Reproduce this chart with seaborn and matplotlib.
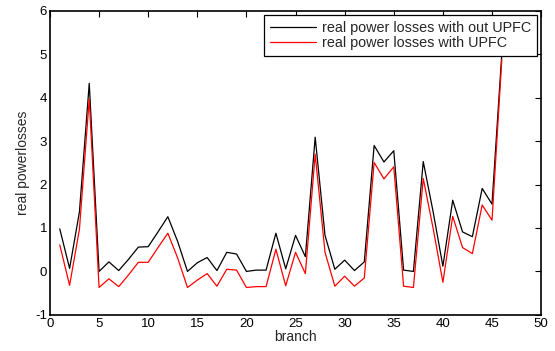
import numpy as np
import pandas as pd
import matplotlib
matplotlib.use("Agg")
import matplotlib.pyplot as plt
import seaborn as sns

branch = list(range(1, 47))
loss_without_upfc = [0.98, 0.07, 1.37, 4.33, 0.0, 0.22, 0.02, 0.28, 0.56, 0.57,
                     0.91, 1.26, 0.69, 0.0, 0.2, 0.32, 0.02, 0.44, 0.4, 0.0,
                     0.03, 0.03, 0.88, 0.06, 0.83, 0.34, 3.09, 0.83, 0.05, 0.26,
                     0.02, 0.22, 2.9, 2.52, 2.78, 0.03, 0.0, 2.53, 1.38, 0.12,
                     1.64, 0.91, 0.8, 1.91, 1.55, 5.02]
loss_with_upfc = [0.61, -0.32, 0.97, 3.97, -0.37, -0.17, -0.35, -0.08, 0.21, 0.21,
                  0.55, 0.88, 0.31, -0.37, -0.2, -0.05, -0.34, 0.05, 0.03, -0.37,
                  -0.35, -0.35, 0.51, -0.33, 0.44, -0.05, 2.7, 0.44, -0.34, -0.11,
                  -0.34, -0.15, 2.51, 2.13, 2.41, -0.34, -0.37, 2.14, 1.0, -0.25,
                  1.27, 0.55, 0.41, 1.53, 1.18, 4.88]
series_names = ["real power losses with out UPFC", "real power losses with UPFC"]
series_colors = ["black", "red"]

df = pd.DataFrame({
    "branch": branch * 2,
    "loss": loss_without_upfc + loss_with_upfc,
    "series": [series_names[0]] * len(branch) + [series_names[1]] * len(branch),
})

sns.set_style("white")
plt.rcParams["font.family"] = ["Liberation Sans", "DejaVu Sans"]
plt.rcParams["axes.unicode_minus"] = False
fs = 10

fig = plt.figure(figsize=(5.55, 3.51), dpi=100)
ax = fig.add_axes([0.09, 0.103, 0.885, 0.866])

sns.lineplot(data=df, x="branch", y="loss", hue="series", hue_order=series_names,
             palette=dict(zip(series_names, series_colors)), linewidth=0.9, ax=ax)

ax.set_xlim(0, 50)
ax.set_ylim(-1, 6)
ax.set_xticks(range(0, 51, 5))
ax.set_yticks(range(-1, 7))
ax.set_xlabel("branch", fontsize=fs, labelpad=0)
ax.set_ylabel("real powerlosses", fontsize=fs, labelpad=4)
ax.tick_params(direction="in", top=True, right=True, length=4, width=0.8,
               labelsize=fs - 0.5, pad=2, colors="black")
for sp in ax.spines.values():
    sp.set_color("black")
    sp.set_linewidth(1.2)

handles, labels = ax.get_legend_handles_labels()
leg = ax.legend(handles, labels, loc="upper right", fontsize=10.4, frameon=True,
                fancybox=False, framealpha=1, edgecolor="black",
                borderaxespad=0.3, handlelength=3.2, handletextpad=0.4,
                borderpad=0.4, labelspacing=0.08)
leg.get_frame().set_linewidth(0.9)

fig.savefig("out.png", dpi=100)
